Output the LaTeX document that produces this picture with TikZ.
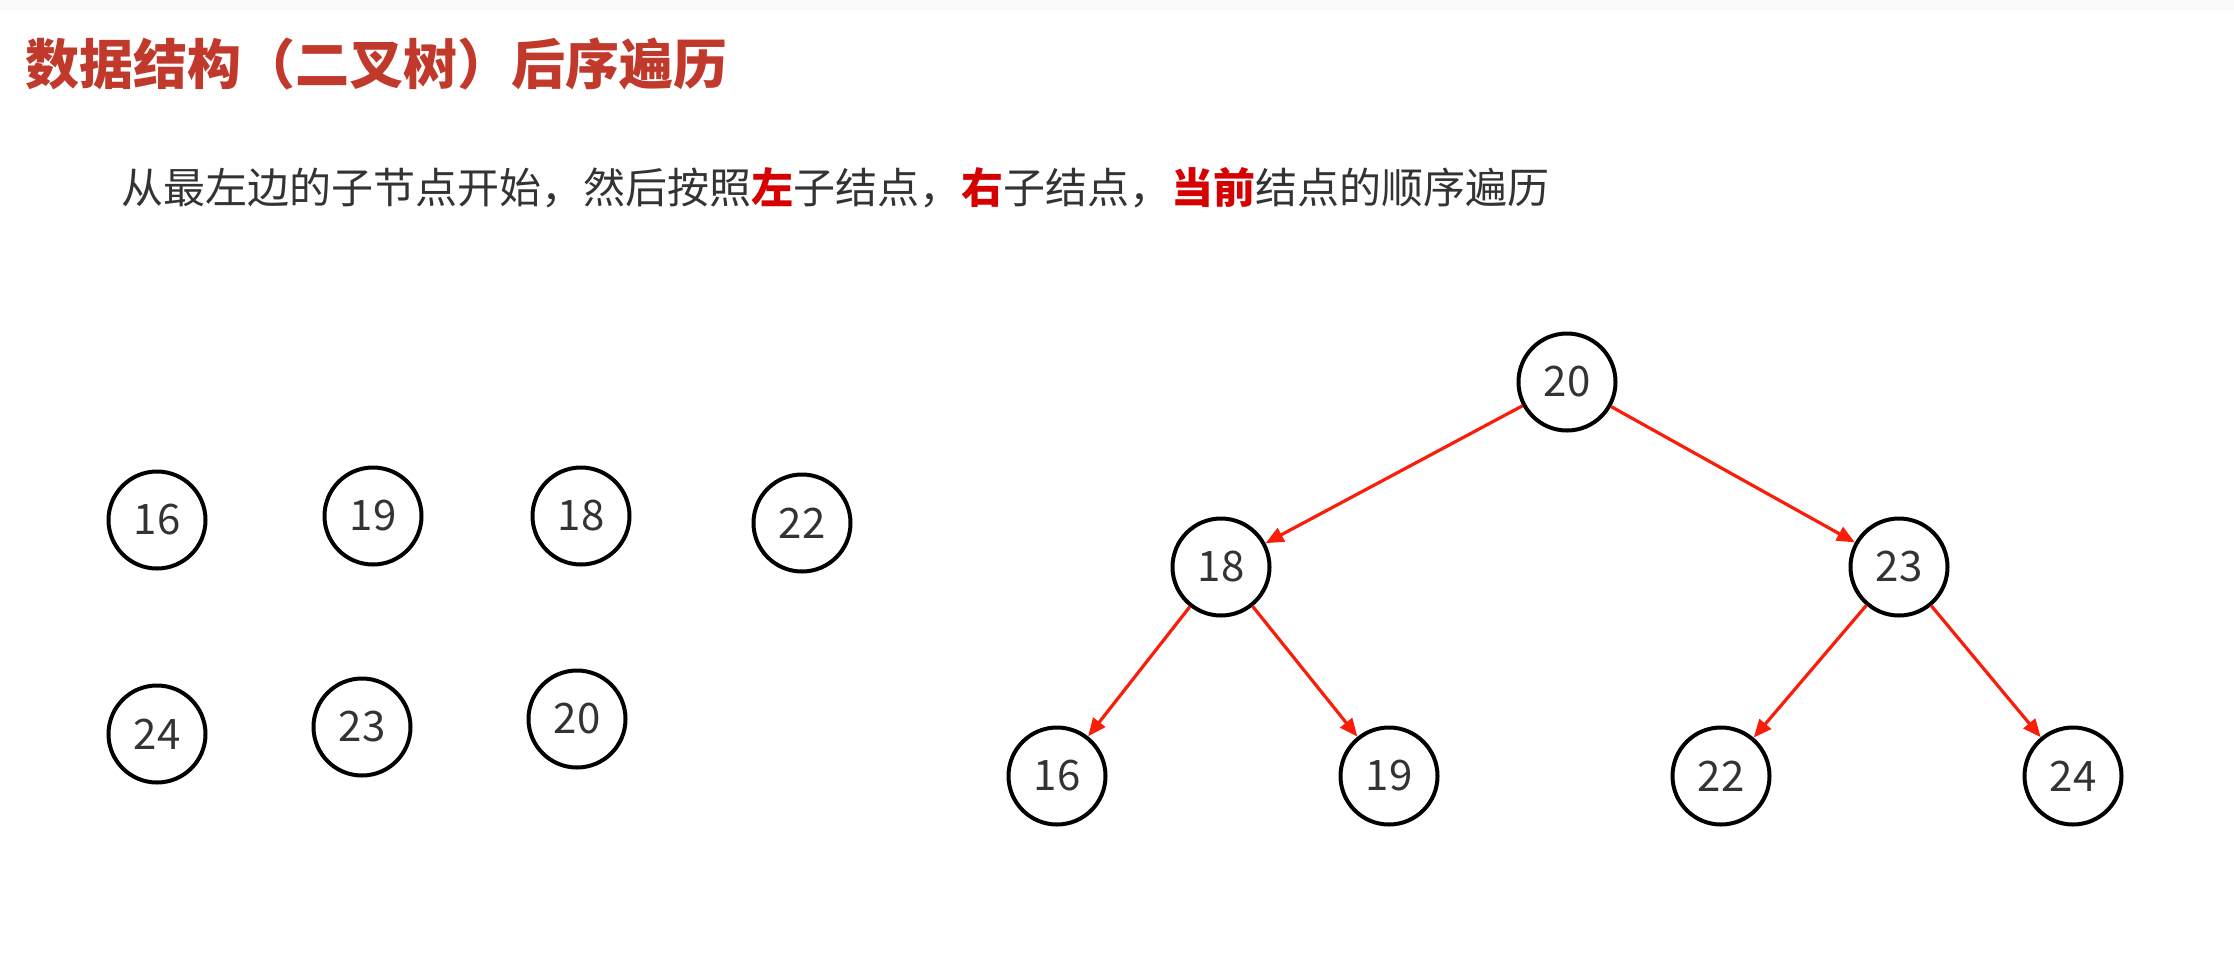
\documentclass[tikz,border=0pt]{standalone}
\usepackage{fontspec}
\usepackage{xcolor}
\setmainfont{Noto Sans CJK SC}
\usetikzlibrary{arrows.meta}

\definecolor{titlered}{RGB}{192,57,43}
\definecolor{hotred}{RGB}{214,0,0}
\definecolor{linkred}{RGB}{250,30,10}
\definecolor{textgray}{RGB}{51,51,51}
\newcommand{\hot}[1]{{\bfseries\color{hotred}#1}}

\begin{document}
\begin{tikzpicture}[
  x=0.5pt, y=-0.5pt,
  every node/.style={inner sep=0pt},
  key/.style={circle, draw=black, line width=2pt, minimum size=48.5pt,
    text=textgray, font=\fontsize{21}{21}\selectfont},
  link/.style={-{Triangle[length=9pt, width=7.5pt]}, draw=linkred, line width=1.6pt}
]
\useasboundingbox (0,0) rectangle (2234,965);
\fill[gray!4] (0,0) rectangle (2234,10);

% heading and explanation
\node[anchor=west, text=titlered, font=\bfseries\fontsize{27}{30}\selectfont]
  (title) at (25,64) {数据结构（二叉树）后序遍历};
\node[anchor=west, text=textgray, font=\fontsize{21}{24}\selectfont]
  (intro) at (121,188) {从最左边的子节点开始，然后按照\hot{左}子结点，\hot{右}子结点，\hot{当前}结点的顺序遍历};

% loose keys
\node[key] (k16) at (157,520) {16};
\node[key] (k19) at (373,516) {19};
\node[key] (k18) at (581,516) {18};
\node[key] (k22) at (802,523) {22};
\node[key] (k24) at (157,734) {24};
\node[key] (k23) at (362,727) {23};
\node[key] (k20) at (577,719) {20};

% the tree
\node[key] (t20) at (1567,382) {20};
\node[key] (t18) at (1221,567) {18};
\node[key] (t23) at (1899,567) {23};
\node[key] (t16) at (1057,776) {16};
\node[key] (t19) at (1389,776) {19};
\node[key] (t22) at (1721,776) {22};
\node[key] (t24) at (2073,776) {24};

\draw[link] (t20) -- (t18);
\draw[link] (t20) -- (t23);
\draw[link] (t18) -- (t16);
\draw[link] (t18) -- (t19);
\draw[link] (t23) -- (t22);
\draw[link] (t23) -- (t24);

\end{tikzpicture}
\end{document}
